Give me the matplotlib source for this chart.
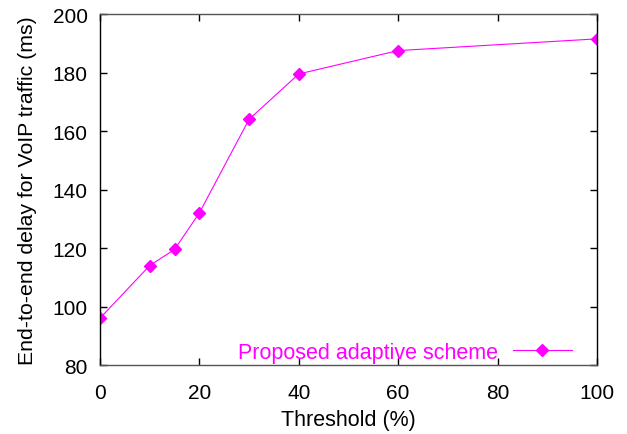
import matplotlib.pyplot as plt

# data
threshold = [0, 10, 15, 20, 30, 40, 60, 100]
delay = [96, 114, 119.5, 132, 164, 179.5, 187.5, 191.5]
label = 'Proposed adaptive scheme'

plt.rcParams['font.family'] = ['Liberation Sans', 'DejaVu Sans']

fig = plt.figure(figsize=(6.27, 4.35), dpi=100)
ax = fig.add_axes([0.1595, 0.1586, 0.7925, 0.8069])

ax.plot(threshold, delay, color='#ff00ff', lw=0.8, marker='D', ms=6,
        label=label)

ax.set_xlim(0, 100)
ax.set_ylim(80, 200)
ax.set_xticks(range(0, 101, 20))
ax.set_yticks(range(80, 201, 20))
ax.tick_params(direction='in', top=True, right=True, labelsize=15,
               length=5, width=1)
ax.tick_params(axis='x', pad=13)
ax.tick_params(axis='y', pad=9)
for s in ax.spines.values():
    s.set_linewidth(1)
ax.spines['top'].set_color('#555555')
ax.spines['bottom'].set_color('#555555')

ax.set_xlabel('Threshold (%)', fontsize=15.5, labelpad=5)
ax.set_ylabel('End-to-end delay for VoIP traffic (ms)', fontsize=15.3,
              labelpad=11)

leg = ax.legend(loc='lower right', bbox_to_anchor=(0.954, 0.0),
                frameon=False, markerfirst=False,
                fontsize=15.5, handlelength=2.75, handletextpad=0.7,
                borderaxespad=0.0, borderpad=0.1)
for t in leg.get_texts():
    t.set_color('#ff00ff')

fig.savefig('out.png', dpi=100)
